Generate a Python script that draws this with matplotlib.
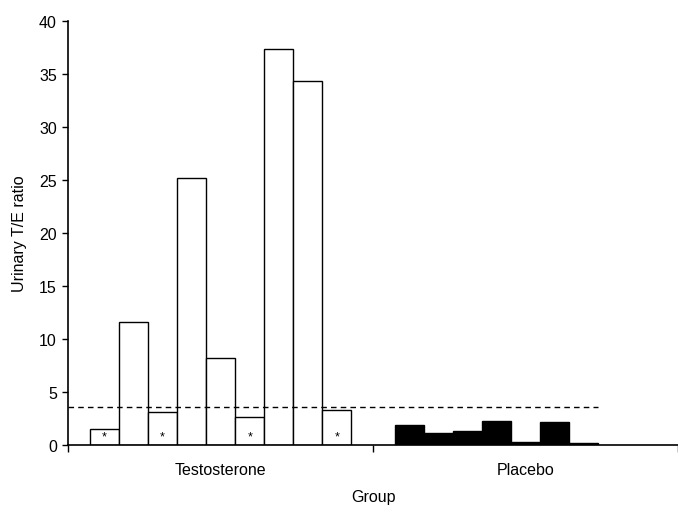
import numpy as np
import matplotlib.pyplot as plt

plt.rcParams['font.family'] = ['Liberation Sans', 'DejaVu Sans']

groups = ["Testosterone", "Placebo"]
testo = [1.5, 11.6, 3.1, 25.2, 8.2, 2.6, 37.4, 34.3, 3.3]
testo_star = [True, False, True, False, False, True, False, False, True]
placebo = [1.9, 1.1, 1.3, 2.3, 0.3, 2.2, 0.2]
cutoff = 3.6

bw = 0.0953  # szerokosc slupka
off = 0.0717  # przesuniecie od poczatku grupy

fig = plt.figure(figsize=(6.78, 5.06), dpi=100)
ax = fig.add_axes([68/678, 60/506, 610/678, 424/506])

xt = off + bw/2 + bw*np.arange(len(testo))
xp = 1 + off + bw/2 + bw*np.arange(len(placebo))
ax.bar(xt, testo, width=bw, color="white", edgecolor="black", linewidth=1.0)
ax.bar(xp, placebo, width=bw, color="black", edgecolor="black", linewidth=1.0)
for x, s in zip(xt, testo_star):
    if s:
        ax.text(x, 0.8, "*", ha="center", va="center", fontsize=9)

ax.plot([0, 1 + off + bw*len(placebo)], [cutoff, cutoff], color="black",
        linestyle=(0, (4, 3)), linewidth=1.0)

ax.set_xlim(0, 610/307)
ax.set_ylim(0, 40)
ax.set_yticks(np.arange(0, 41, 5))
ax.set_xticks([0, 1, 2])
ax.set_xticklabels([])
ax.set_xticks([0.5, 1.5], minor=True)
ax.set_xticklabels(groups, minor=True)
ax.tick_params(axis="x", which="minor", length=0, pad=12, labelsize=11.5)
ax.tick_params(axis="x", which="major", direction="out", length=5, width=1)
ax.tick_params(axis="y", direction="out", length=4, width=1, pad=4, labelsize=11.5)
for s in ["top", "right"]:
    ax.spines[s].set_visible(False)
ax.spines["left"].set_linewidth(1.2)
ax.spines["bottom"].set_linewidth(1.2)
ax.set_xlabel("Group", fontsize=11.5, labelpad=9)
ax.set_ylabel("Urinary T/E ratio", fontsize=11.5, labelpad=9)

plt.savefig("out.png", dpi=100)
